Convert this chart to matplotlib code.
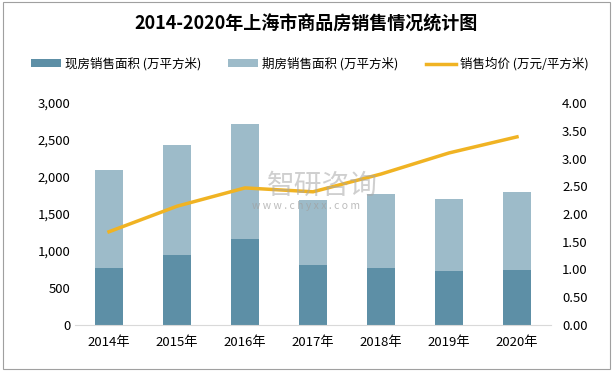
import matplotlib
matplotlib.use("Agg")
import matplotlib.pyplot as plt
import numpy as np

plt.rcParams['font.family'] = ['Noto Sans CJK SC', 'DejaVu Sans']

years = ['2014年', '2015年', '2016年', '2017年', '2018年', '2019年', '2020年']
existing = [770, 946, 1162, 811, 770, 730, 743]
totals = [2094, 2432, 2716, 1689, 1770, 1702, 1797]
presale = [t - e for t, e in zip(totals, existing)]
price = [1.68, 2.14, 2.47, 2.40, 2.72, 3.10, 3.39]

left_ticks = [0, 500, 1000, 1500, 2000, 2500, 3000]
right_ticks = [0, 0.5, 1.0, 1.5, 2.0, 2.5, 3.0, 3.5, 4.0]

W, H = 613, 371
fig = plt.figure(figsize=(W/100, H/100), dpi=100)
ax = fig.add_axes([75/W, 1-325/H, (551-75)/W, (325-103)/H])
x = np.arange(len(years))
c_dark = '#5d8fa6'
c_light = '#9dbbc9'
c_line = '#f0b323'
ax.bar(x, existing, width=0.4, color=c_dark, label='现房销售面积 (万平方米)', zorder=2)
ax.bar(x, presale, width=0.4, bottom=existing, color=c_light, label='期房销售面积 (万平方米)', zorder=2)
ax.set_ylim(0, 3000)
ax.set_xlim(-0.5, len(years)-0.5)
ax.set_yticks(left_ticks)
ax.set_yticklabels([f'{v:,}' for v in left_ticks])
ax.set_xticks(x)
ax.set_xticklabels(years)
for s in ['top', 'right', 'left']:
    ax.spines[s].set_visible(False)
ax.spines['bottom'].set_color('#d9d9d9')
ax.tick_params(axis='both', length=0, labelsize=9.5, colors='black')
ax.tick_params(axis='x', pad=8)

ax2 = ax.twinx()
ax2.plot(x, price, color=c_line, lw=2.5, label='销售均价 (万元/平方米)', zorder=3)
ax2.set_ylim(0, 4)
ax2.set_yticks(right_ticks)
ax2.set_yticklabels([f'{v:.2f}' for v in right_ticks])
for s in ['top', 'right', 'left', 'bottom']:
    ax2.spines[s].set_visible(False)
ax2.tick_params(axis='y', length=0, labelsize=9.5, pad=8)

fig.text(0.5, 1-24/H, '2014-2020年上海市商品房销售情况统计图', ha='center', va='center',
         fontsize=13, fontweight='bold')

fig.text(322/W, 1-186/H, '智研咨询', ha='center', va='center', fontsize=20, color='#a8a8a8', alpha=0.55, zorder=5)
fig.text(306/W, 1-206/H, 'w w w . c h y x x . c o m', ha='center', va='center', fontsize=7.5, color='#a0a0a0', alpha=0.7)

h1, l1 = ax.get_legend_handles_labels()
h2, l2 = ax2.get_legend_handles_labels()
fig.legend(h1 + h2, l1 + l2, loc='center', bbox_to_anchor=(0.505, 1-64/H), ncol=3, frameon=False,
           fontsize=9, handlelength=2.4, handleheight=0.6, columnspacing=2.2, handletextpad=0.3)

border = plt.Rectangle((0.005, 0.005), 0.99, 0.99, transform=fig.transFigure, fill=False,
                       edgecolor='#a0a0a0', lw=0.8)
fig.patches.append(border)
fig.savefig('out.png', dpi=100)
